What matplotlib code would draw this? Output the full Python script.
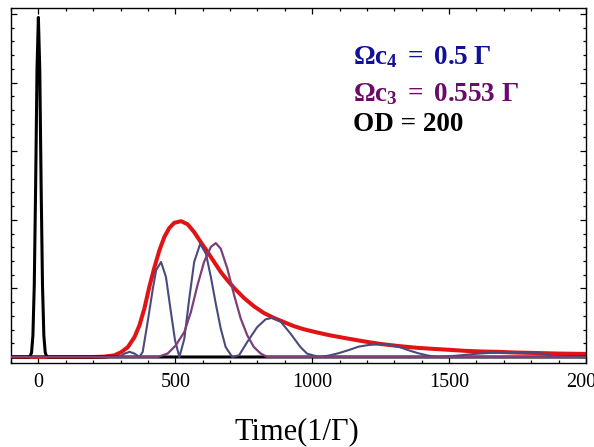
import numpy as np
import matplotlib
matplotlib.use("Agg")
import matplotlib.pyplot as plt
from matplotlib.ticker import MultipleLocator

plt.rcParams["font.family"] = ["Liberation Serif", "DejaVu Serif"]
plt.rcParams["mathtext.fontset"] = "custom"
plt.rcParams["mathtext.rm"] = "Liberation Serif"
plt.rcParams["mathtext.bf"] = "Liberation Serif:bold"
plt.rcParams["mathtext.it"] = "Liberation Serif:italic"

# Input probe pulse (black)
t_probe = [-100, -35, -30, -25, -20, -15, -10, -5, 0, 5, 10, 15, 20, 25, 30, 35, 2000]
probe = [0, 0, 0.002, 0.013, 0.062, 0.21, 0.50, 0.84, 0.99, 0.84, 0.50, 0.21, 0.062,
         0.013, 0.002, 0, 0]

# Total retrieved output (red)
t_total = [-100, 200, 240, 278, 302, 327, 351, 369, 387, 405, 424, 442, 460, 478, 496,
           521, 545, 569, 593, 618, 642, 666, 690, 715, 751, 787, 824, 860, 896, 933,
           969, 1010, 1060, 1121, 1193, 1250, 1315, 1380, 1436, 1500, 1557, 1620, 1678,
           1740, 1800, 1900, 2000]
total = [0, 0, 0.001, 0.005, 0.014, 0.029, 0.058, 0.092, 0.141, 0.204, 0.262, 0.311,
         0.350, 0.376, 0.391, 0.396, 0.387, 0.364, 0.335, 0.306, 0.277, 0.248, 0.224,
         0.201, 0.172, 0.148, 0.128, 0.114, 0.102, 0.090, 0.081, 0.073, 0.064, 0.055,
         0.045, 0.038, 0.032, 0.027, 0.024, 0.021, 0.018, 0.016, 0.015, 0.013, 0.012,
         0.010, 0.009]

# Output through channel c4 (blue)
t_c4 = [-100, 295, 315, 333, 351, 369, 381, 399, 418, 430, 448, 466, 484, 499, 515,
        533, 551, 569, 591, 612, 630, 648, 666, 684, 708, 733, 763, 799, 830, 854, 884,
        921, 957, 981, 1024, 1060, 1096, 1133, 1169, 1206, 1242, 1279, 1315, 1351, 1387,
        1424, 1460, 1530, 1593, 1650, 1700, 1760, 1820, 1850, 1896, 2000]
c4 = [0, 0, 0.010, 0.015, 0.010, 0, 0.015, 0.102, 0.199, 0.253, 0.277, 0.233, 0.131,
      0.049, 0, 0.053, 0.170, 0.277, 0.330, 0.301, 0.233, 0.155, 0.083, 0.029, 0,
      0.005, 0.044, 0.087, 0.110, 0.114, 0.104, 0.068, 0.029, 0.010, 0, 0.004, 0.011,
      0.020, 0.030, 0.035, 0.037, 0.035, 0.030, 0.020, 0.011, 0.004, 0, 0.004, 0.009,
      0.012, 0.013, 0.014, 0.013, 0.008, 0, 0]

# Output through channel c3 (purple)
t_c3 = [-100, 436, 472, 502, 533, 557, 581, 605, 630, 648, 666, 690, 715, 739, 763,
        787, 812, 836, 2000]
c3 = [0, 0, 0.010, 0.034, 0.073, 0.131, 0.209, 0.277, 0.321, 0.332, 0.316, 0.258,
      0.180, 0.112, 0.063, 0.029, 0.010, 0, 0]

x_ticks = [0, 500, 1000, 1500, 2000]
x_tick_labels = ["0", "500", "1000", "1500", "2000"]

W, H = 594, 447
fig = plt.figure(figsize=(W / 100, H / 100), dpi=100)
ax = fig.add_axes([11 / W, 1 - 363 / H, 575 / W, 355 / H])

ax.plot(t_total, total, color="#e01414", lw=2.9, zorder=2, solid_joinstyle="round")
ax.plot(t_probe, probe, color="#000000", lw=2.2, zorder=3)
ax.plot(t_c4, c4, color="#4a4a7e", lw=1.5, zorder=4, solid_joinstyle="round")
ax.plot(t_c3, c3, color="#7c3f78", lw=1.6, zorder=5, solid_joinstyle="round")

ax.set_xlim(-100, 2000)
ax.set_ylim(-0.0175, 1.0175)

ax.set_xticks(x_ticks)
ax.set_xticklabels(x_tick_labels)
ax.xaxis.set_minor_locator(MultipleLocator(100))
ax.yaxis.set_major_locator(MultipleLocator(0.2))
ax.yaxis.set_minor_locator(MultipleLocator(0.04))
ax.tick_params(which="both", direction="in", top=True, right=True,
               labelleft=False, width=0.9, colors="black")
ax.tick_params(which="major", length=4)
ax.tick_params(which="minor", length=2.5)
ax.tick_params(axis="x", labelsize=14.5, pad=7)
for s in ax.spines.values():
    s.set_linewidth(1.0)

fig.text(297 / W, 1 - 439 / H, "Time(1/Γ)", ha="center", va="baseline", fontsize=22)

fig.text(353 / W, 1 - 64 / H, r"$\mathbf{\Omega c_4}\ \mathbf{=}\ \mathbf{0.5}\ \mathbf{\Gamma}$",
         color="#10109a", fontsize=19.5, va="baseline", ha="left")
fig.text(353 / W, 1 - 101 / H, r"$\mathbf{\Omega c_3}\ \mathbf{=}\ \mathbf{0.553}\ \mathbf{\Gamma}$",
         color="#6a0a6a", fontsize=19.5, va="baseline", ha="left")
fig.text(353 / W, 1 - 131 / H, "OD = 200", color="black", fontsize=19.5,
         fontweight="bold", va="baseline", ha="left")

fig.savefig("out.png", dpi=100)
